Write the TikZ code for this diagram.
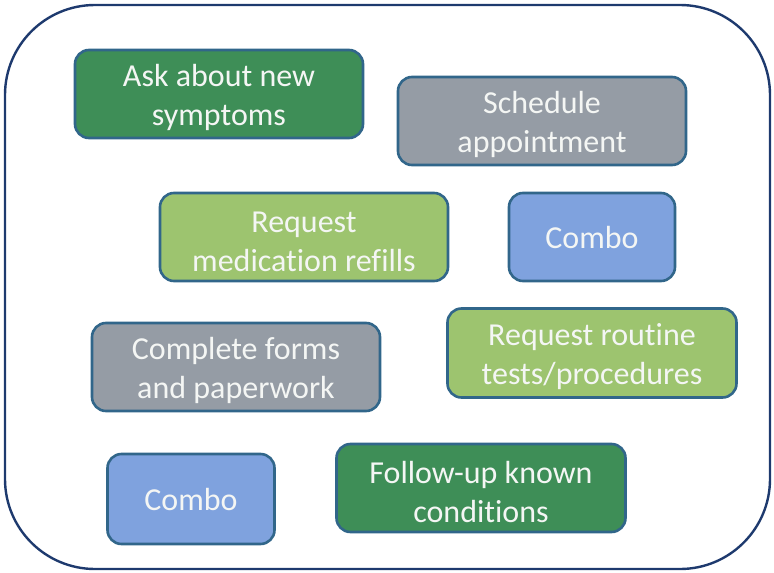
\documentclass[tikz,border=0pt]{standalone}
\usepackage{fontspec}
\setmainfont[Ligatures=NoCommon]{Carlito}
\definecolor{dkgreen}{HTML}{3E8E57}
\definecolor{ltgreen}{HTML}{9DC46F}
\definecolor{grayb}{HTML}{959CA5}
\definecolor{blueb}{HTML}{7FA2DE}
\definecolor{edgeb}{HTML}{31668A}
\definecolor{frame}{HTML}{1E3A6E}
\definecolor{txt}{HTML}{F4F6F4}
\newcommand{\dn}{\rule{0pt}{30pt}}
\begin{document}
\begin{tikzpicture}[x=1pt,y=-1pt,
  card/.style={draw=edgeb, line width=2.6pt, rounded corners=14pt, text=txt,
    font=\fontsize{32}{39}\selectfont, align=center, inner sep=0pt},
  ]
\useasboundingbox (0,0) rectangle (774,573);
\draw[frame, line width=2.4pt, rounded corners=90pt] (5,5) rectangle (770,569);
\newcommand{\card}[7]{%
  \node[card, fill=#2, minimum width=#5pt, minimum height=#6pt] (#1) at (#3,#4) {#7};}
\card{ask}{dkgreen}{219}{94}{288}{88}{\dn Ask about new\\symptoms}
\card{sched}{grayb}{542}{121}{288}{88}{\dn Schedule\\appointment}
\card{refill}{ltgreen}{304}{237}{288}{88}{\dn Request\\medication refills}
\card{comboA}{blueb}{592}{237}{166}{88}{Combo}
\card{forms}{grayb}{236}{367}{288}{88}{\dn Complete forms\\and paperwork}
\card{tests}{ltgreen}{592}{353}{289}{89}{\dn Request routine\\tests/procedures}
\card{comboB}{blueb}{191}{499}{167}{90}{Combo}
\card{follow}{dkgreen}{481}{488}{289}{88}{\dn Follow-up known\\conditions}
\end{tikzpicture}
\end{document}
